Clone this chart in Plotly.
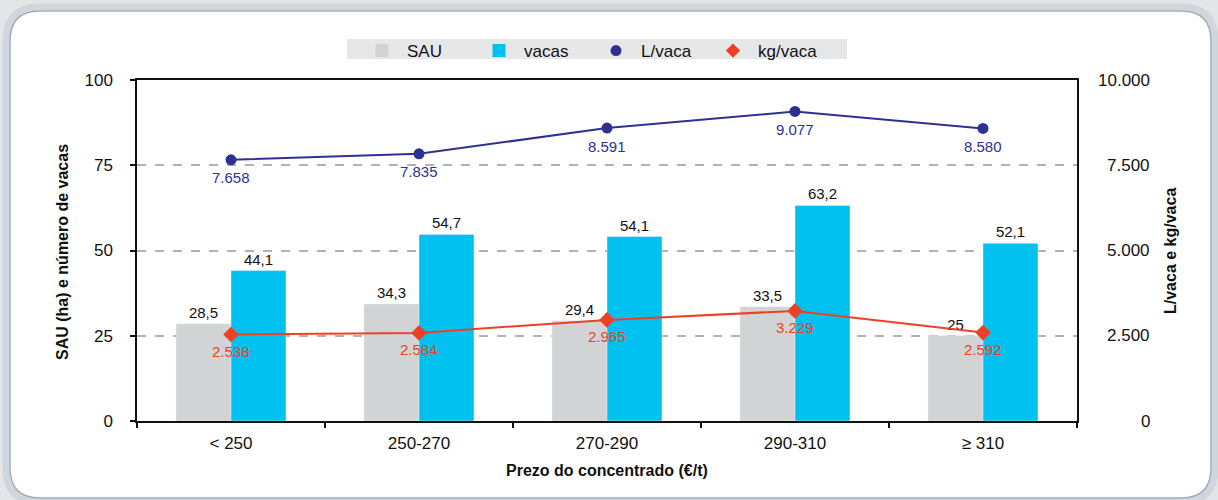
import plotly.graph_objects as go

categories = ["< 250", "250-270", "270-290", "290-310", "≥ 310"]
sau = [28.5, 34.3, 29.4, 33.5, 25]
vacas = [44.1, 54.7, 54.1, 63.2, 52.1]
l_vaca = [7658, 7835, 8591, 9077, 8580]
kg_vaca = [2538, 2584, 2965, 3229, 2592]
left_ticks = [0, 25, 50, 75, 100]
right_ticks = [0, 2500, 5000, 7500, 10000]

W, H = 1218, 500
L, R, T, B = 137, 1077, 80, 421
PW, PH = R - L, B - T

def px(x):
    return (x - L) / PW

def py(y):
    return (B - y) / PH

def comma(v):
    return f"{v:g}".replace(".", ",")

def thousands(v):
    return f"{v:,.0f}".replace(",", ".")

FONT = "Arial, Liberation Sans, Helvetica, sans-serif"
GRAY = "#d1d3d4"
CYAN = "#00c1f0"
NAVY = "#2e3192"
RED = "#ec4125"

fig = go.Figure()
fig.add_trace(go.Bar(x=categories, y=sau, name="SAU", marker_color=GRAY,
                     text=[comma(v) for v in sau], textposition="outside",
                     textfont=dict(size=15, color="#111"), cliponaxis=False,
                     showlegend=False))
fig.add_trace(go.Bar(x=categories, y=vacas, name="vacas", marker_color=CYAN,
                     text=[comma(v) for v in vacas], textposition="outside",
                     textfont=dict(size=15, color="#111"), cliponaxis=False,
                     showlegend=False))
fig.add_trace(go.Scatter(x=categories, y=l_vaca, yaxis="y2", mode="lines+markers",
                         line=dict(color=NAVY, width=2), marker=dict(size=11, color=NAVY),
                         showlegend=False, cliponaxis=False))
fig.add_trace(go.Scatter(x=categories, y=kg_vaca, yaxis="y2", mode="lines+markers",
                         line=dict(color=RED, width=2), marker=dict(size=12, color=RED, symbol="diamond"),
                         showlegend=False, cliponaxis=False))

# legend-only entries (scatter so they do not take bar slots)
fig.add_trace(go.Scatter(x=[None], y=[None], name="SAU", mode="markers",
                         marker=dict(size=13, color=GRAY, symbol="square"), showlegend=True))
fig.add_trace(go.Scatter(x=[None], y=[None], name="vacas", mode="markers",
                         marker=dict(size=13, color=CYAN, symbol="square"), showlegend=True))
fig.add_trace(go.Scatter(x=[None], y=[None], name="L/vaca", mode="markers",
                         marker=dict(size=11, color=NAVY), showlegend=True))
fig.add_trace(go.Scatter(x=[None], y=[None], name="kg/vaca", mode="markers",
                         marker=dict(size=11, color=RED, symbol="diamond"), showlegend=True))

def rounded(x0, y0, x1, y1, r):
    pts = [
        f"M {px(x0 + r)},{py(y0)}",
        f"L {px(x1 - r)},{py(y0)}",
        f"Q {px(x1)},{py(y0)} {px(x1)},{py(y0 + r)}",
        f"L {px(x1)},{py(y1 - r)}",
        f"Q {px(x1)},{py(y1)} {px(x1 - r)},{py(y1)}",
        f"L {px(x0 + r)},{py(y1)}",
        f"Q {px(x0)},{py(y1)} {px(x0)},{py(y1 - r)}",
        f"L {px(x0)},{py(y0 + r)}",
        f"Q {px(x0)},{py(y0)} {px(x0 + r)},{py(y0)}",
        "Z",
    ]
    return " ".join(pts)

shapes = [
    dict(type="path", xref="paper", yref="paper", path=rounded(6, 7, 1215, 502, 34),
         line=dict(color="#d0d6dc", width=7), fillcolor="white", layer="below"),
    dict(type="path", xref="paper", yref="paper", path=rounded(10, 11, 1211, 498, 30),
         line=dict(color="#9fadba", width=1.5), fillcolor="white", layer="below"),
    dict(type="rect", xref="paper", yref="paper", x0=px(347), x1=px(847), y0=py(59), y1=py(39),
         line=dict(width=0), fillcolor="#e6e7e9", layer="below"),
]

annotations = []
for t in right_ticks:
    annotations.append(dict(x=px(1152), xref="paper", y=t, yref="y2", text=thousands(t),
                            showarrow=False, xanchor="right", yanchor="middle",
                            font=dict(size=17, color="#111")))
for c, v in zip(categories, l_vaca):
    annotations.append(dict(x=c, y=v, xref="x", yref="y2", text=thousands(v), showarrow=False,
                            xanchor="center", yanchor="middle", yshift=-18,
                            font=dict(size=15, color=NAVY)))
for c, v in zip(categories, kg_vaca):
    annotations.append(dict(x=c, y=v, xref="x", yref="y2", text=thousands(v), showarrow=False,
                            xanchor="center", yanchor="middle", yshift=-17,
                            font=dict(size=15, color=RED)))
annotations += [
    dict(x=px(1170), y=py(251), xref="paper", yref="paper", text="<b>L/vaca e kg/vaca</b>",
         textangle=-90, showarrow=False, xanchor="center", yanchor="middle",
         font=dict(size=16, color="#111")),
    dict(x=px(62), y=py(252), xref="paper", yref="paper", text="<b>SAU (ha) e número de vacas</b>",
         textangle=-90, showarrow=False, xanchor="center", yanchor="middle",
         font=dict(size=16, color="#111")),
    dict(x=px(607), y=py(470), xref="paper", yref="paper", text="<b>Prezo do concentrado (€/t)</b>",
         showarrow=False, xanchor="center", yanchor="middle", font=dict(size=16, color="#111")),
]

fig.update_layout(
    width=W, height=H,
    margin=dict(l=L, r=W - R, t=T, b=H - B, pad=0),
    paper_bgcolor="#e3e6e9", plot_bgcolor="rgba(0,0,0,0)",
    font=dict(family=FONT, size=17, color="#111"),
    separators=",.",
    barmode="group", bargap=0.415, bargroupgap=0,
    showlegend=True,
    legend=dict(orientation="h", x=px(357), y=py(33), xanchor="left", yanchor="top",
                bgcolor="rgba(0,0,0,0)", font=dict(size=17, color="#111"),
                entrywidth=62, itemwidth=40, itemclick=False, tracegroupgap=0),
    xaxis=dict(type="category", showline=True, linecolor="#111", linewidth=1.5, mirror=True,
               ticks="outside", ticklen=5, tickcolor="#111", tickwidth=1.5, tickson="boundaries",
               tickfont=dict(size=17, color="#111"), ticklabelstandoff=6, showgrid=False),
    yaxis=dict(range=[0, 100], tickvals=left_ticks, showline=True, linecolor="#111", linewidth=1.5,
               mirror=True, ticks="outside", ticklen=5, tickcolor="#111", tickwidth=1.5,
               tickfont=dict(size=17, color="#111"), ticklabelstandoff=14,
               showgrid=True, gridcolor="#b3b3b3", gridwidth=1.5, griddash="dash", zeroline=False),
    yaxis2=dict(range=[0, 10000], overlaying="y", side="right", showticklabels=False,
                showgrid=False, zeroline=False, showline=False, ticks=""),
    shapes=shapes, annotations=annotations,
)

fig.write_html("out.html", config={"displayModeBar": False},
               post_script="document.body.style.margin='0';document.body.style.overflow='hidden';")
